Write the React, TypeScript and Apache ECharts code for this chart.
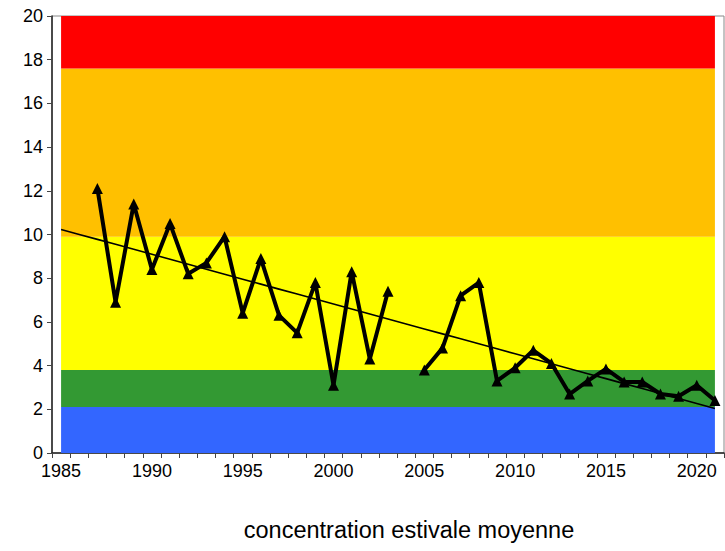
import React, { useEffect, useRef } from "react";
import * as echarts from "echarts";

const years: string[] = [];
for (let y = 1985; y <= 2021; y++) years.push(String(y));

// summer mean concentration, null = missing year
const concentration: (number | null)[] = [
  null, null, 12.1, 6.9, 11.4, 8.4, 10.5, 8.2, 8.7, 9.9,
  6.4, 8.9, 6.3, 5.5, 7.8, 3.1, 8.3, 4.3, 7.4, null,
  3.8, 4.8, 7.2, 7.8, 3.3, 3.9, 4.7, 4.1, 2.7, 3.3,
  3.85, 3.25, 3.25, 2.7, 2.6, 3.1, 2.4,
];

// upper limits of the quality classes
const bandLimits = [2.1, 3.8, 9.9, 17.6, 20];
const bandColors = ["#3366FF", "#339933", "#FFFF00", "#FFC000", "#FF0000"];

const yTicks = { min: 0, max: 20, interval: 2 };
const title = "concentration estivale moyenne";

function linearTrend(vals: (number | null)[]): number[] {
  const pts: [number, number][] = [];
  vals.forEach((v, i) => { if (v !== null) pts.push([i, v]); });
  const n = pts.length;
  const mx = pts.reduce((s, p) => s + p[0], 0) / n;
  const my = pts.reduce((s, p) => s + p[1], 0) / n;
  let sxy = 0, sxx = 0;
  pts.forEach(([x, y]) => { sxy += (x - mx) * (y - my); sxx += (x - mx) ** 2; });
  const b = sxy / sxx;
  const a = my - b * mx;
  return vals.map((_, i) => +(a + b * i).toFixed(4));
}

export default function App() {
  const ref = useRef<HTMLDivElement>(null);
  useEffect(() => {
    if (!ref.current) return;
    const chart = echarts.init(ref.current, undefined, { renderer: "svg" });
    const font = "Arial, 'Liberation Sans', sans-serif";
    const bandSeries = bandLimits.map((lim, k) => {
      const thick = +(lim - (k === 0 ? 0 : bandLimits[k - 1])).toFixed(3);
      return {
        type: "line",
        stack: "bands",
        data: years.map(() => thick),
        symbol: "none",
        lineStyle: { width: 0 },
        areaStyle: { color: bandColors[k], opacity: 1 },
        silent: true,
        z: 1,
      };
    });
    chart.setOption({
      animation: false,
      backgroundColor: "#fff",
      grid: {
        left: 52, right: 1, top: 16, bottom: 98,
        show: true, borderColor: "#888", borderWidth: 1, backgroundColor: "transparent",
      },
      xAxis: {
        type: "category",
        data: years,
        boundaryGap: true,
        axisLine: { lineStyle: { color: "#222", width: 1.5 } },
        axisTick: { show: true, interval: 0, length: 5, lineStyle: { color: "#444" } },
        axisLabel: { interval: 4, color: "#000", fontSize: 18, fontFamily: font, margin: 9 },
        splitLine: { show: false },
      },
      yAxis: {
        type: "value",
        min: yTicks.min,
        max: yTicks.max,
        interval: yTicks.interval,
        axisLine: { show: true, lineStyle: { color: "#222", width: 1.5 } },
        axisTick: { show: true, length: 5, lineStyle: { color: "#444" } },
        axisLabel: { color: "#000", fontSize: 18, fontFamily: font, margin: 9 },
        splitLine: { show: false },
      },
      graphic: [
        {
          type: "text",
          x: 409,
          y: 530,
          style: {
            text: title,
            fontSize: 23.5,
            fontFamily: font,
            fill: "#000",
            textAlign: "center",
            textVerticalAlign: "middle",
          },
        },
      ],
      series: [
        ...bandSeries,
        {
          type: "line",
          data: linearTrend(concentration),
          symbol: "none",
          lineStyle: { color: "#000", width: 1.6 },
          z: 3,
          silent: true,
        },
        {
          type: "line",
          data: concentration.map((v) => (v === null ? "-" : v)),
          connectNulls: false,
          symbol: "triangle",
          symbolSize: 11,
          itemStyle: { color: "#000" },
          lineStyle: { color: "#000", width: 4 },
          z: 4,
        },
      ],
    });
    return () => chart.dispose();
  }, []);
  return <div ref={ref} style={{ width: 725, height: 551, position: "absolute", left: 0, top: 0 }} />;
}
